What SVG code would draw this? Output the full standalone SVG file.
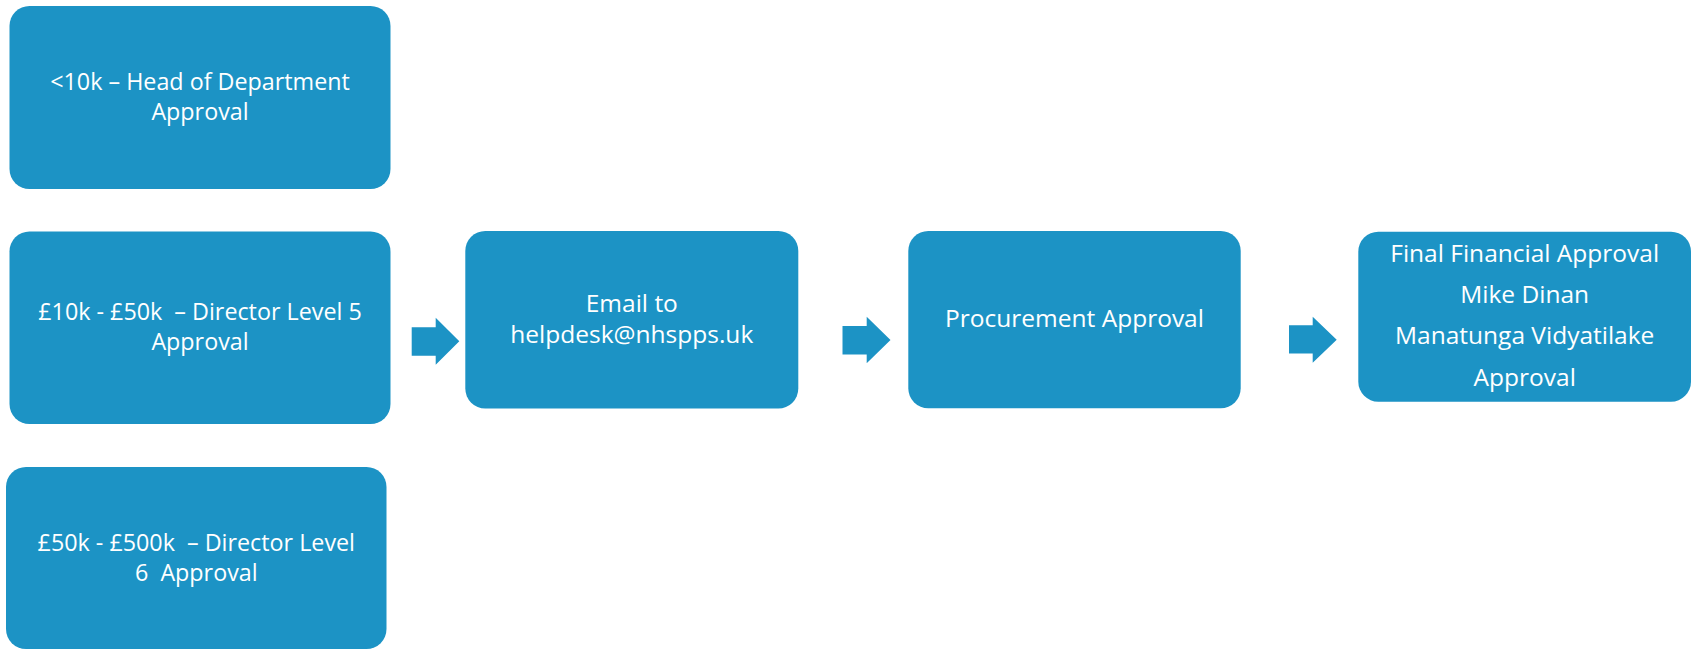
<svg xmlns="http://www.w3.org/2000/svg" width="1698" height="650" viewBox="0 0 1698 650">
<style>
.box{fill:#1c93c5;}
.lbl{fill:#ffffff;font-family:"Open Sans","Noto Sans","Liberation Sans",sans-serif;font-size:24.5px;text-anchor:middle;white-space:pre;}
.sm{font-size:23.3px;}
.arr{fill:#1c93c5;}
</style>
<rect width="1698" height="650" fill="#ffffff"/>
<g id="node-head-of-department">
<rect class="box" x="9.5" y="6" width="381" height="183" rx="20" ry="20"/>
<text class="lbl sm" x="200" y="89.5">&lt;10k – Head of Department</text>
<text class="lbl sm" x="200" y="119.5">Approval</text>
</g>
<g id="node-director-level-5">
<rect class="box" x="9.5" y="231.5" width="381" height="192.5" rx="20" ry="20"/>
<text class="lbl sm" x="200" y="320" xml:space="preserve">£10k - £50k  – Director Level 5</text>
<text class="lbl sm" x="200" y="350">Approval</text>
</g>
<g id="node-director-level-6">
<rect class="box" x="6" y="467" width="380.5" height="182" rx="20" ry="20"/>
<text class="lbl sm" x="196.3" y="551" xml:space="preserve">£50k - £500k  – Director Level</text>
<text class="lbl sm" x="196.3" y="581" xml:space="preserve">6  Approval</text>
</g>
<g id="node-email">
<rect class="box" x="465.3" y="231" width="333" height="177.5" rx="20" ry="20"/>
<text class="lbl" x="631.8" y="312.3">Email to</text>
<text class="lbl" x="631.8" y="343.3">helpdesk@nhspps.uk</text>
</g>
<g id="node-procurement">
<rect class="box" x="908.3" y="231" width="332.4" height="177.3" rx="20" ry="20"/>
<text class="lbl" x="1074.5" y="326.7">Procurement Approval</text>
</g>
<g id="node-final-financial">
<rect class="box" x="1358.3" y="231.7" width="332.7" height="170" rx="20" ry="20"/>
<text class="lbl" x="1524.7" y="261.7">Final Financial Approval</text>
<text class="lbl" x="1524.7" y="302.7">Mike Dinan</text>
<text class="lbl" x="1524.7" y="344.3">Manatunga Vidyatilake</text>
<text class="lbl" x="1524.7" y="386">Approval</text>
</g>
<g id="connectors">
<polygon class="arr" points="411.7,327.3 435.7,327.3 435.7,317.7 459.3,341.2 435.7,364.7 435.7,355.7 411.7,355.7"/>
<polygon class="arr" points="842.5,326 866.7,326 866.7,316.7 890.5,340 866.7,363.3 866.7,354.5 842.5,354.5"/>
<polygon class="arr" points="1289,325.3 1312.7,325.3 1312.7,316.7 1336.7,339.7 1312.7,362.7 1312.7,353.5 1289,353.5"/>
</g>
</svg>
